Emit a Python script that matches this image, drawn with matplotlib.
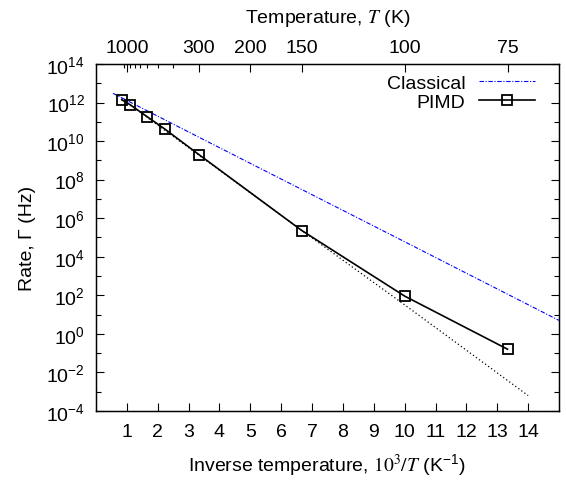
import numpy as np
import matplotlib
matplotlib.use("Agg")
from matplotlib import pyplot as plt
from matplotlib.ticker import FixedLocator, LogLocator, LogFormatterSciNotation, NullFormatter

plt.rcParams['font.family'] = ['Liberation Sans', 'DejaVu Sans']
plt.rcParams['mathtext.fontset'] = 'stix'
plt.rcParams['font.size'] = 14

# PIMD rates
pimd_T = np.array([1200, 900, 600, 450, 300, 150, 100, 75])
pimd_rate = np.array([1.4e12, 7.6e11, 1.8e11, 4.3e10, 2.0e9, 2.3e5, 91, 0.16])

# classical rate line
classical_x = [0.55, 3.33, 10.0, 15.0]
classical_rate = [3.0e12, 1.6e10, 6.0e4, 5.0]

# dotted high-temperature extrapolation
extrap_x = [0.83, 6.67, 10.0, 14.0]
extrap_rate = [1.6e12, 2.3e5, 3.2e1, 6.3e-4]

top_T = [1000, 300, 200, 150, 100, 75]
top_T_minor = [1100, 900, 800, 700, 600, 500, 400]
bottom_ticks = list(range(1, 15))

fs = 14

fig = plt.figure(figsize=(5.66, 4.81), dpi=100)
ax = fig.add_axes([0.1696, 0.1435, 0.818, 0.7214])

ax.plot(extrap_x, extrap_rate, color='black', ls=(0, (1, 2)), lw=0.9, zorder=1)
ax.plot(classical_x, classical_rate, color='blue', ls=(0, (4, 1.5, 1, 1.5)), lw=0.8,
        label='Classical', zorder=2)
ax.plot(1000.0 / pimd_T, pimd_rate, color='black', lw=1.2, marker='s', ms=7,
        mfc='none', mec='black', mew=1.3, label='PIMD', zorder=3)

ax.set_yscale('log')
ax.set_xlim(0, 15)
ax.set_ylim(1e-4, 1e14)
ax.yaxis.set_major_locator(LogLocator(base=100, numticks=20))
ax.yaxis.set_major_formatter(LogFormatterSciNotation(base=10))
ax.yaxis.set_minor_locator(LogLocator(base=10, subs=[1.0], numticks=30))
ax.yaxis.set_minor_formatter(NullFormatter())
ax.xaxis.set_major_locator(FixedLocator(bottom_ticks))

ax.tick_params(axis='both', which='major', direction='in', length=6, width=0.8,
               labelsize=fs)
ax.tick_params(axis='x', which='major', pad=9)
ax.tick_params(axis='y', which='major', pad=8)
ax.tick_params(axis='y', which='both', right=True, left=True)
ax.tick_params(axis='y', which='minor', direction='in', length=3.5, width=0.8)
ax.tick_params(axis='x', top=False)

ax.set_xlabel('Inverse temperature, $10^3/T$ (K$^{\\mathdefault{-1}}$)', labelpad=8, fontsize=fs)
ax.set_ylabel('Rate, \u0393 (Hz)', labelpad=7, fontsize=fs)

for s in ax.spines.values():
    s.set_linewidth(1.0)

# top temperature axis
ax2 = ax.twiny()
ax2.set_xlim(ax.get_xlim())
ax2.xaxis.set_major_locator(FixedLocator([1000.0 / t for t in top_T]))
ax2.set_xticklabels([str(t) for t in top_T])
ax2.xaxis.set_minor_locator(FixedLocator([1000.0 / t for t in top_T_minor]))
ax2.tick_params(axis='x', which='major', direction='in', length=6, width=0.8,
                labelsize=fs, pad=6)
ax2.tick_params(axis='x', which='minor', direction='in', length=3, width=0.8)
ax2.set_xlabel('Temperature, $T$ (K)', labelpad=12, fontsize=fs)

leg = ax.legend(loc='upper right', bbox_to_anchor=(0.965, 0.992), frameon=False,
                markerfirst=False, numpoints=1, handlelength=2.9, fontsize=fs,
                borderaxespad=0, borderpad=0.4, labelspacing=0.05,
                handletextpad=0.67)

fig.savefig('out.png', dpi=100)
